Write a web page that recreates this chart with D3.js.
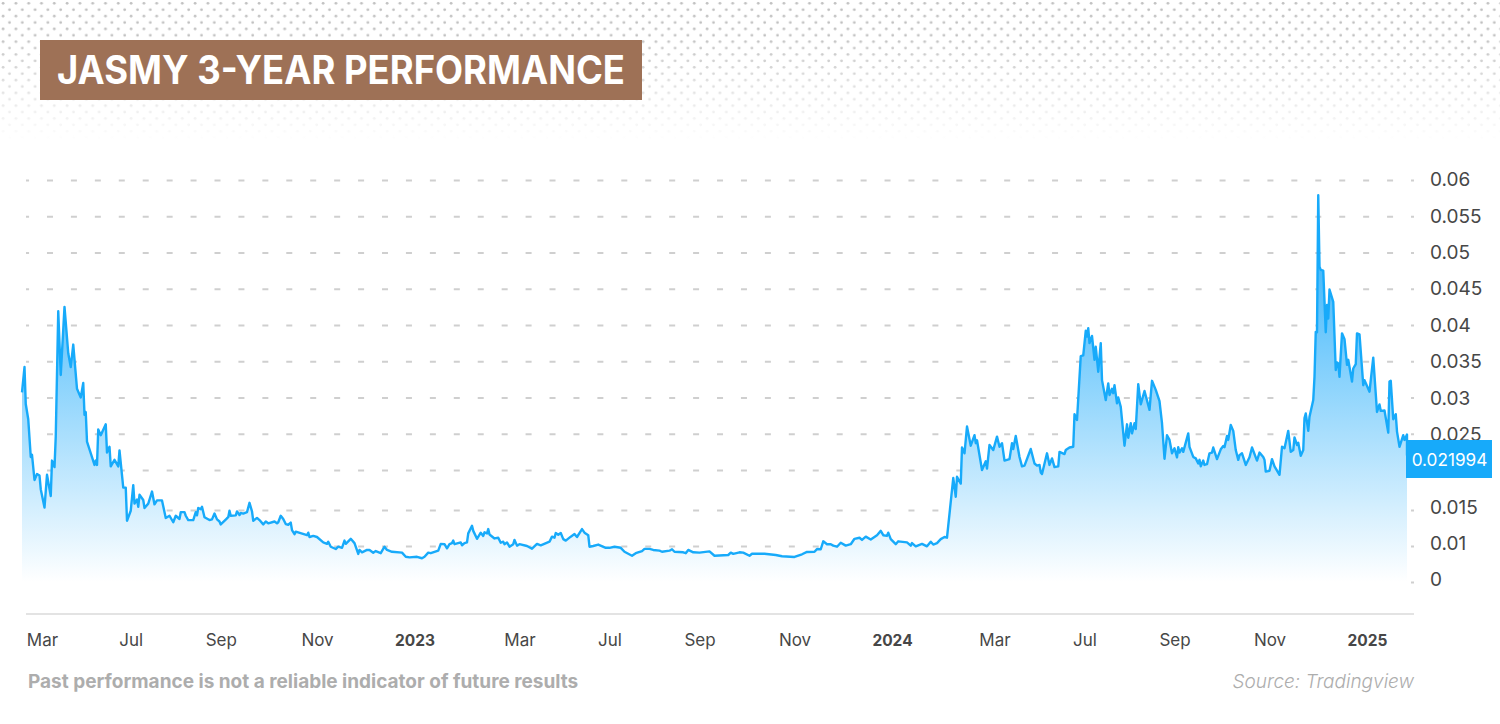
<!DOCTYPE html>
<html>
<head>
<meta charset="utf-8">
<script src="https://cdn.jsdelivr.net/npm/d3@7"></script>
<style>
html, body { margin: 0; padding: 0; background: #fff; }
svg { display: block; }
text { font-family: "Inter", "Lato", sans-serif; }
</style>
</head>
<body>
<script>
var titleText = "JASMY 3-YEAR PERFORMANCE";
var noteText = "Past performance is not a reliable indicator of future results";
var sourceText = "Source: Tradingview";

// positions on the time axis, the month labels of the source are not evenly spaced
var sessions = [0,2,3,5,7,8,10,12,14,15,18,20,23,24,26,27,29,31,34,37,39,41,44,47,49,50,51,52,58,59,60,61,63,67,68,70,71,74,77,78,81,83,84,87,89,90,92,93,94,97,98,101,104,106,108,112,115,118,121,123,126,127,130,131,133,137,139,140,141,143,144,146,150,152,154,156,158,159,164,165,166,167,171,172,174,175,177,180,182,184,185,188,190,193,195,197,202,204,205,207,209,211,213,215,216,218,219,228,229,230,233,236,241,244,245,247,251,253,256,258,259,263,266,269,270,272,276,278,281,283,287,290,292,296,304,307,310,316,320,322,325,327,333,335,338,340,342,344,345,346,351,352,354,356,357,360,361,364,367,369,370,372,373,374,378,381,383,385,386,388,390,393,394,396,398,404,408,412,415,422,424,426,427,429,431,433,435,439,442,444,448,450,453,454,457,461,467,470,474,479,482,488,491,496,498,502,505,510,512,518,520,522,529,531,533,537,542,550,554,565,567,569,574,577,582,584,594,603,608,618,624,628,634,636,639,641,644,647,649,652,655,659,663,666,670,672,675,679,684,687,689,692,693,695,699,701,708,711,712,715,720,724,727,729,732,735,738,740,745,747,748,751,752,754,756,759,762,763,764,768,771,772,774,777,780,782,784,786,790,792,793,795,798,800,802,807,810,812,814,815,816,820,822,824,826,829,830,834,835,838,841,842,844,847,849,851,852,853,854,856,858,859,861,863,864,867,869,870,872,873,874,876,877,879,882,884,885,887,888,890,891,893,895,898,902,904,907,910,912,914,916,918,920,922,924,925,926,928,929,933,934,937,939,941,942,943,945,946,948,950,952,953,956,959,961,962,964,965,967,969,971,973,974,976,979,982,984,988,990,993,994,995,998,1000,1002,1006,1008,1010,1013,1015,1017,1018,1020,1021,1023,1025,1026,1027,1029,1030,1033,1034,1035,1036,1037,1038,1039,1041,1043,1044,1045,1046,1049,1051,1052,1053,1054,1056,1058,1060,1061,1064,1065,1067,1068,1070,1073,1074,1078,1081,1084,1086,1087,1090,1093,1094,1095,1097,1099,1100,1102,1105,1106,1108,1108];

// JASMY price in USD
var prices = [0.0307,0.0342,0.0291,0.027,0.0218,0.0221,0.01875,0.0195,0.0193,0.0176,0.0153,0.0194,0.01675,0.0213,0.0204,0.0246,0.0419,0.0331,0.0425,0.0361,0.0342,0.0373,0.0312,0.03,0.032,0.0276,0.028,0.0239,0.0207,0.0213,0.0207,0.0256,0.0248,0.0263,0.0224,0.0232,0.0205,0.0214,0.0205,0.0227,0.0178,0.0178,0.0135,0.0149,0.0181,0.0158,0.0163,0.0154,0.0169,0.01625,0.01525,0.0158,0.0173,0.0157,0.0162,0.0162,0.0139,0.0142,0.0133,0.0142,0.01375,0.0147,0.0147,0.0142,0.0136,0.0136,0.0147,0.01425,0.01525,0.0151,0.0154,0.014,0.0136,0.0137,0.0145,0.0137,0.0134,0.013,0.01385,0.014,0.0149,0.0142,0.01425,0.0148,0.0143,0.0146,0.0145,0.0147,0.0159,0.0148,0.0135,0.0139,0.0136,0.013,0.0134,0.01315,0.0134,0.01315,0.0133,0.0142,0.01375,0.01305,0.01295,0.01325,0.0122,0.01165,0.012,0.0115,0.01185,0.01125,0.0114,0.01125,0.0105,0.0103,0.0106,0.0098,0.00917,0.0098,0.0095,0.01075,0.0103,0.011,0.0104,0.0078,0.0089,0.00825,0.0089,0.0089,0.00815,0.0086,0.008,0.0098,0.0089,0.0084,0.00815,0.007,0.00685,0.007,0.0066,0.007,0.00815,0.008,0.0087,0.0103,0.01025,0.00935,0.01025,0.0104,0.01075,0.01025,0.0105,0.0101,0.0104,0.0105,0.01175,0.0128,0.0121,0.011,0.01185,0.0114,0.0119,0.01175,0.01235,0.0116,0.01105,0.01115,0.01045,0.0106,0.01025,0.0105,0.0098,0.01025,0.01085,0.01005,0.01025,0.01,0.00925,0.0103,0.0101,0.0106,0.0113,0.01115,0.0118,0.01155,0.0118,0.01095,0.01075,0.0113,0.01165,0.01125,0.01235,0.01185,0.0115,0.0098,0.01,0.0102,0.0095,0.0095,0.0098,0.0095,0.0084,0.0073,0.008,0.0086,0.0092,0.0092,0.0089,0.0087,0.0084,0.0087,0.0091,0.0084,0.00825,0.008,0.0089,0.00825,0.00815,0.0085,0.0073,0.0075,0.00815,0.0078,0.00825,0.00815,0.0073,0.00785,0.00785,0.0075,0.00715,0.00695,0.0077,0.00835,0.0084,0.00915,0.0091,0.01065,0.01025,0.01025,0.01005,0.0098,0.01045,0.01005,0.01025,0.011,0.01115,0.01085,0.0113,0.0109,0.0115,0.0121,0.0115,0.0114,0.01185,0.01095,0.01025,0.01065,0.0105,0.01005,0.0104,0.0099,0.0103,0.0099,0.0106,0.0102,0.0104,0.01095,0.01125,0.01115,0.019,0.01665,0.01915,0.0183,0.0231,0.0223,0.026,0.02335,0.0248,0.0237,0.0241,0.02,0.0212,0.0202,0.02345,0.02275,0.0246,0.0232,0.0237,0.0213,0.0215,0.0237,0.0229,0.0247,0.0218,0.0205,0.0206,0.0229,0.0209,0.0206,0.0207,0.0197,0.0195,0.0223,0.0207,0.0216,0.0204,0.0205,0.0225,0.0222,0.02275,0.0231,0.0232,0.0277,0.0269,0.0357,0.0358,0.0392,0.0384,0.03955,0.0375,0.0385,0.0352,0.037,0.03355,0.0375,0.0324,0.02965,0.03195,0.03035,0.0312,0.0306,0.0317,0.0292,0.03,0.0287,0.02335,0.0263,0.02445,0.02645,0.02505,0.02645,0.02565,0.03185,0.02905,0.0309,0.0283,0.0323,0.03105,0.0295,0.02645,0.02155,0.0248,0.02415,0.0223,0.023,0.02175,0.02315,0.0224,0.023,0.0225,0.02505,0.0232,0.0218,0.0216,0.0209,0.0214,0.0205,0.0213,0.0207,0.0208,0.0223,0.0224,0.0231,0.0215,0.02285,0.0233,0.02315,0.0247,0.02415,0.0262,0.0254,0.02275,0.0214,0.02205,0.0223,0.0207,0.02175,0.0231,0.0213,0.0224,0.0218,0.0214,0.0198,0.0199,0.0215,0.0205,0.0194,0.0232,0.023,0.0254,0.0225,0.02275,0.0245,0.02345,0.02375,0.02195,0.02275,0.02715,0.0278,0.0254,0.02735,0.02965,0.03285,0.03905,0.039,0.0579,0.04805,0.0476,0.0475,0.039,0.04275,0.0409,0.0449,0.0432,0.0338,0.03485,0.0347,0.03285,0.03885,0.03805,0.0345,0.0352,0.0322,0.034,0.0346,0.03885,0.0387,0.0317,0.0324,0.0308,0.0355,0.028,0.02905,0.02815,0.0282,0.02515,0.0322,0.0323,0.027,0.0277,0.0253,0.0232,0.0248,0.02415,0.0249,0.021994];

var yTicks = [0.06,0.055,0.05,0.045,0.04,0.035,0.03,0.025,0.02,0.015,0.01,0];
var xTickSessions = [16,87,159,236,314,398,470,542,618,696,778,850,922,998,1076];
var xTickLabels = ["Mar","Jul","Sep","Nov","2023","Mar","Jul","Sep","Nov","2024","Mar","Jul","Sep","Nov","2025"];
var lastPrice = "0.021994";

var width = 1500, height = 724;

var xScale = d3.scaleLinear()
    .domain([0, 1108])
    .range([22, 1407]);

// the source axis is not uniform in its lower part
var yScale = d3.scaleLinear()
    .domain([0, 0.01, 0.015, 0.02, 0.06])
    .range([582, 546, 510, 470, 180]);

// tick labels sit at an even step, unlike the gridlines
var yLabelScale = d3.scalePoint()
    .domain(yTicks)
    .range([179.5, 579.5]);

var data = sessions.map(function(d, i) { return {session: d, price: prices[i]}; });

var svg = d3.select("body")
    .append("svg")
    .attr("width", width)
    .attr("height", height);

var defs = svg.append("defs");

// dotted header background
var pattern = defs.append("pattern")
    .attr("id", "dots")
    .attr("patternUnits", "userSpaceOnUse")
    .attr("width", 12.8)
    .attr("height", 12.8);
pattern.append("circle").attr("cx", 3.1).attr("cy", 3.3).attr("r", 1.4).attr("fill", "#c0c0c0");
pattern.append("circle").attr("cx", 9.5).attr("cy", 9.7).attr("r", 1.4).attr("fill", "#c0c0c0");

var fade = defs.append("linearGradient")
    .attr("id", "dotsFade")
    .attr("x1", 0).attr("x2", 0).attr("y1", 0).attr("y2", 1);
fade.append("stop").attr("offset", "25%").attr("stop-color", "#fff").attr("stop-opacity", 1);
fade.append("stop").attr("offset", "100%").attr("stop-color", "#fff").attr("stop-opacity", 0);

defs.append("mask")
    .attr("id", "dotsMask")
    .attr("maskUnits", "userSpaceOnUse")
    .attr("x", 0).attr("y", 0).attr("width", width).attr("height", 140)
    .append("rect")
    .attr("width", width)
    .attr("height", 140)
    .attr("fill", "url(#dotsFade)");

svg.append("rect")
    .attr("width", width)
    .attr("height", 140)
    .attr("fill", "url(#dots)")
    .attr("mask", "url(#dotsMask)");

// area gradient
var areaFill = defs.append("linearGradient")
    .attr("id", "areaFill")
    .attr("gradientUnits", "userSpaceOnUse")
    .attr("x1", 0).attr("x2", 0)
    .attr("y1", yScale(0.058)).attr("y2", yScale(0));
areaFill.append("stop").attr("offset", "0%").attr("stop-color", "#1eaafa");
areaFill.append("stop").attr("offset", "100%").attr("stop-color", "#ffffff");

// title
svg.append("rect")
    .attr("x", 40)
    .attr("y", 40)
    .attr("width", 602)
    .attr("height", 60)
    .attr("fill", "#9e7156");

svg.append("text")
    .attr("x", 57)
    .attr("y", 84)
    .attr("fill", "#fff")
    .style("font-size", "39px")
    .style("font-weight", 700)
    .attr("textLength", 568)
    .attr("lengthAdjust", "spacingAndGlyphs")
    .text(titleText);

// gridlines
var grid = svg.append("g")
    .attr("transform", "translate(1414,0)")
    .call(d3.axisLeft(yScale).tickValues(yTicks).tickSize(1388).tickFormat(""));
grid.select(".domain").remove();
grid.selectAll("line")
    .attr("stroke", "#cfcfcf")
    .attr("stroke-width", 2)
    .attr("stroke-dasharray", "6 17.93")
    .attr("stroke-dashoffset", 3);

svg.selectAll(".y-label")
    .data(yTicks)
    .enter()
    .append("text")
    .attr("class", "y-label")
    .attr("x", 1430)
    .attr("y", function(d) { return yLabelScale(d); })
    .attr("dy", "0.36em")
    .attr("fill", "#474747")
    .style("font-size", "19px")
    .text(function(d) { return d; });

// the white end of the fill covers the lowest gridline
var area = d3.area()
    .x(function(d) { return xScale(d.session); })
    .y0(yScale(0) + 2)
    .y1(function(d) { return yScale(d.price); });

var line = d3.line()
    .x(function(d) { return xScale(d.session); })
    .y(function(d) { return yScale(d.price); });

svg.append("path")
    .datum(data)
    .attr("d", area)
    .attr("fill", "url(#areaFill)");

svg.append("path")
    .datum(data)
    .attr("d", line)
    .attr("fill", "none")
    .attr("stroke", "#17aafa")
    .attr("stroke-width", 2.4)
    .attr("stroke-linejoin", "round");

// x axis
svg.append("line")
    .attr("x1", 26)
    .attr("x2", 1414)
    .attr("y1", 614)
    .attr("y2", 614)
    .attr("stroke", "#e3e3e3")
    .attr("stroke-width", 2);

var xAxis = svg.append("g")
    .attr("transform", "translate(0,640)")
    .call(d3.axisBottom(xScale)
        .tickValues(xTickSessions)
        .tickSize(0)
        .tickPadding(0)
        .tickFormat(function(d, i) { return xTickLabels[i]; }));
xAxis.select(".domain").remove();
xAxis.selectAll("text")
    .attr("y", 0)
    .attr("dy", "0.36em")
    .attr("fill", "#474747")
    .style("font-family", "Inter, Lato, sans-serif")
    .style("font-size", function(d, i) { return xTickLabels[i].length == 4 ? "15.5px" : "17px"; })
    .style("font-weight", function(d, i) { return xTickLabels[i].length == 4 ? 700 : 400; });

// last price tag
svg.append("rect")
    .attr("x", 1406)
    .attr("y", 440)
    .attr("width", 86)
    .attr("height", 38)
    .attr("fill", "#17aafa");

svg.append("text")
    .attr("x", 1449.5)
    .attr("y", 459.5)
    .attr("dy", "0.36em")
    .attr("fill", "#fff")
    .style("text-anchor", "middle")
    .style("font-size", "17.2px")
    .text(lastPrice);

// footer
svg.append("text")
    .attr("x", 28)
    .attr("y", 688)
    .attr("fill", "#adadad")
    .style("font-size", "19px")
    .style("font-weight", 700)
    .text(noteText);

svg.append("text")
    .attr("x", 1414)
    .attr("y", 688)
    .attr("fill", "#adadad")
    .style("text-anchor", "end")
    .style("font-size", "19px")
    .style("font-style", "italic")
    .style("font-weight", 300)
    .text(sourceText);
</script>
</body>
</html>
